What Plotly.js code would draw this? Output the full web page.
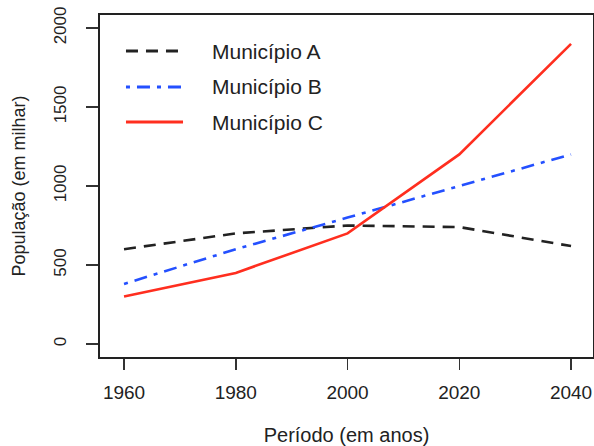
<!DOCTYPE html>
<html>
<head>
<meta charset="utf-8">
<script src="https://cdn.plot.ly/plotly-3.0.1.min.js"></script>
<style>html,body{margin:0;padding:0;background:#fff;}#chart{width:594px;height:446px;}</style>
</head>
<body>
<div id="chart"></div>
<script>
const years = [1960, 1980, 2000, 2020, 2040];
const seriesNames = ["Município A", "Município B", "Município C"];
const municipioA = [600, 700, 750, 740, 620];
const municipioB = [380, 600, 800, 1000, 1200];
const municipioC = [300, 450, 700, 1200, 1900];
const xTicks = [1960, 1980, 2000, 2020, 2040];
const yTicks = [0, 500, 1000, 1500, 2000];

const colors = ["#222222", "#2450ff", "#ff2e1f"];
const dashes = ["12px,8px", "4px,7px,13px,7px", "solid"];
const values = [municipioA, municipioB, municipioC];

const FONT = "Liberation Sans, Arial, sans-serif";

const traces = values.map((v, i) => ({
  x: years, y: v, type: "scatter", mode: "lines", name: seriesNames[i],
  line: {color: colors[i], width: 2.6, dash: dashes[i]},
  showlegend: false, hoverinfo: "skip"
}));

// custom legend like R's legend()
const legX0 = 0.0527, legX1 = 0.1684, legTextX = 0.2231;
const legY = [0.8947, 0.7895, 0.6871];
const shapes = seriesNames.map((n, i) => ({
  type: "line", xref: "paper", yref: "paper",
  x0: legX0, x1: legX1, y0: legY[i], y1: legY[i],
  line: {color: colors[i], width: 2.8, dash: dashes[i]}
}));
const annotations = seriesNames.map((n, i) => ({
  text: n, xref: "paper", yref: "paper", x: legTextX, y: legY[i],
  xanchor: "left", yanchor: "middle", showarrow: false,
  font: {family: FONT, size: 21, color: "#222"}
}));

const layout = {
  width: 594, height: 446,
  margin: {l: 100, r: 1, t: 15, b: 89, pad: 0},
  paper_bgcolor: "#fff", plot_bgcolor: "#fff",
  showlegend: false,
  font: {family: FONT, color: "#222"},
  xaxis: {
    range: [1955.70, 2043.93], tickvals: xTicks, ticktext: xTicks.map(String),
    ticks: "outside", ticklen: 11, tickwidth: 1.5, tickcolor: "#333",
    showgrid: false, zeroline: false,
    showline: true, linecolor: "#222", linewidth: 2, mirror: true,
    tickfont: {family: FONT, size: 19, color: "#222"},
    ticklabelstandoff: 6,
    title: {text: "Período (em anos)", font: {family: FONT, size: 20, color: "#222"}, standoff: 27}
  },
  yaxis: {
    range: [-82.3, 2082.3], tickvals: yTicks, ticktext: yTicks.map(String),
    ticks: "outside", ticklen: 12, tickwidth: 1.5, tickcolor: "#333",
    tickangle: -90,
    showgrid: false, zeroline: false,
    showline: true, linecolor: "#222", linewidth: 2, mirror: true,
    tickfont: {family: FONT, size: 17, color: "#222"},
    ticklabelstandoff: 13,
    title: {text: "População (em milhar)", font: {family: FONT, size: 18, color: "#222"}, standoff: 21}
  },
  shapes: shapes,
  annotations: annotations
};

Plotly.newPlot("chart", traces, layout, {staticPlot: true, displayModeBar: false});
</script>
</body>
</html>
